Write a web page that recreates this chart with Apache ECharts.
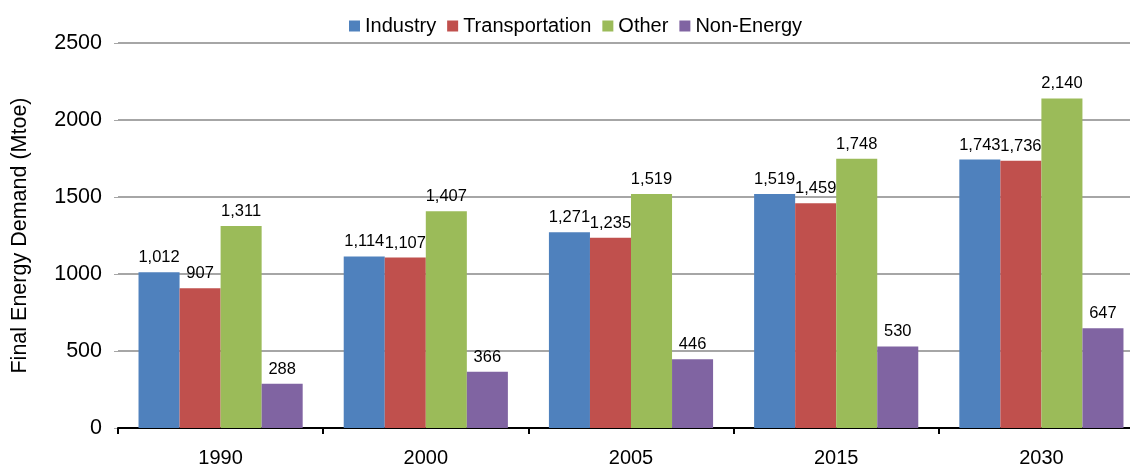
<!DOCTYPE html>
<html>
<head>
<meta charset="utf-8">
<script src="https://cdn.jsdelivr.net/npm/echarts@6/dist/echarts.min.js"></script>
<style>
    html, body { margin: 0; padding: 0; background: #ffffff; }
    #chart { width: 1130px; height: 468px; }
</style>
</head>
<body>
<div id="chart"></div>
<script>
const years = ['1990', '2000', '2005', '2015', '2030'];
const industry = [1012, 1114, 1271, 1519, 1743];
const transportation = [907, 1107, 1235, 1459, 1736];
const other = [1311, 1407, 1519, 1748, 2140];
const nonEnergy = [288, 366, 446, 530, 647];

const chart = echarts.init(document.getElementById('chart'));
const font = 'Liberation Sans, Arial, sans-serif';

function barSeries(name, data, color) {
    return {
        name: name,
        type: 'bar',
        data: data,
        barGap: '0%',
        barCategoryGap: '20%',
        itemStyle: { color: color },
        label: {
            show: true,
            position: 'top',
            distance: 6,
            color: '#000',
            fontFamily: font,
            fontSize: 16.5,
            formatter: p => p.value.toLocaleString('en-US')
        }
    };
}

chart.setOption({
    animation: false,
    textStyle: { fontFamily: font },
    legend: {
        top: 11,
        left: 344,
        itemWidth: 11,
        itemHeight: 11,
        itemGap: 11,
        icon: 'rect',
        textStyle: { fontSize: 20, color: '#000', fontFamily: font }
    },
    grid: { left: 118, right: -14, top: 43, bottom: 40, outerBoundsMode: 'none' },
    xAxis: {
        type: 'category',
        data: years,
        axisLine: { lineStyle: { color: '#000', width: 2 } },
        axisTick: { show: true, length: 6, lineStyle: { color: '#000', width: 2 } },
        axisLabel: { fontSize: 20, color: '#000', margin: 20, fontFamily: font }
    },
    yAxis: {
        type: 'value',
        min: 0,
        max: 2500,
        interval: 500,
        name: 'Final Energy Demand (Mtoe)',
        nameLocation: 'middle',
        nameGap: 87,
        nameTextStyle: { fontSize: 21.5, color: '#000', fontFamily: font },
        axisLine: { show: false },
        axisTick: { show: true, length: 4, lineStyle: { color: '#a6a6a6' } },
        axisLabel: { fontSize: 21.5, color: '#000', margin: 16, fontFamily: font, formatter: v => String(v) },
        splitLine: { lineStyle: { color: '#a6a6a6', width: 2 } }
    },
    series: [
        barSeries('Industry', industry, '#4f81bd'),
        barSeries('Transportation', transportation, '#c0504d'),
        barSeries('Other', other, '#9bbb59'),
        barSeries('Non-Energy', nonEnergy, '#8064a2')
    ]
});
</script>
</body>
</html>
